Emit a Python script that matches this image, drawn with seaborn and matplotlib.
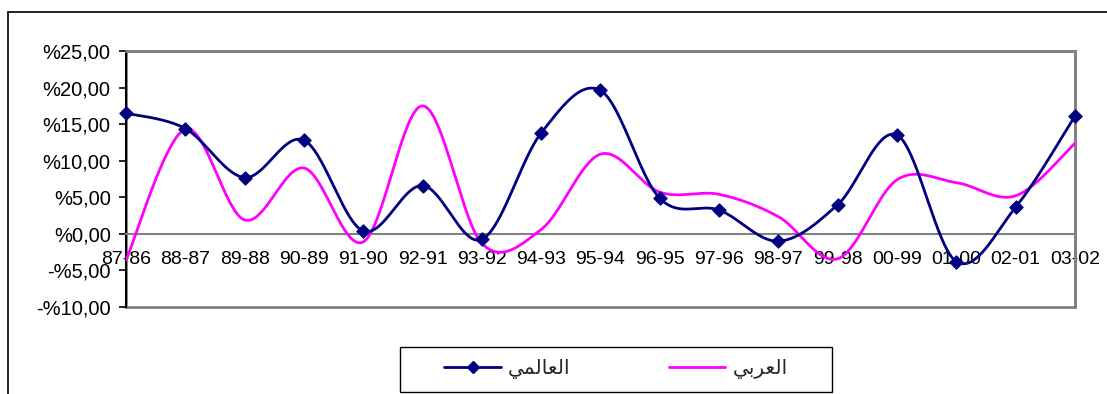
import numpy as np
import matplotlib
matplotlib.use("Agg")
import matplotlib.pyplot as plt
from matplotlib.lines import Line2D
from matplotlib.patches import Rectangle
import seaborn as sns

# Periods (years) and annual growth rates, in percent
periods = ["87-86", "88-87", "89-88", "90-89", "91-90", "92-91", "93-92", "94-93",
           "95-94", "96-95", "97-96", "98-97", "99-98", "00-99", "01-00", "02-01", "03-02"]
world = [16.5, 14.4, 7.7, 12.8, 0.4, 6.6, -0.75, 13.8, 19.6, 4.85, 3.25, -1.0,
         4.0, 13.5, -3.8, 3.65, 16.1]
arab = [-3.6, 14.3, 1.9, 9.0, -1.1, 17.5, -1.3, 0.6, 10.9, 5.7, 5.4, 2.35,
        -3.4, 7.4, 7.0, 5.2, 12.4]
y_ticks = [-10, -5, 0, 5, 10, 15, 20, 25]

# Series names, written in Arabic presentation forms (visual order)
label_world = "\uFEF2\uFEE4\uFEDF\uFE8E\uFECC\uFEDF\uFE8D"   # العالمي
label_arab = "\uFEF2\uFE91\uFEAE\uFECC\uFEDF\uFE8D"          # العربي

NAVY = "#000080"
MAGENTA = "#FF00FF"
GRAY = "#808080"


def smooth_curve(values, steps=40):
    """Catmull-Rom style Bezier smoothing through every point."""
    y = np.asarray(values, dtype=float)
    pts = np.column_stack([np.arange(len(y), dtype=float), y])
    ext = np.vstack([pts[0], pts, pts[-1]])
    t = np.linspace(0, 1, steps)[:, None]
    parts = []
    for i in range(len(y) - 1):
        p0, p3 = ext[i + 1], ext[i + 2]
        c1 = p0 + (ext[i + 2] - ext[i]) / 6.0
        c2 = p3 - (ext[i + 3] - ext[i + 1]) / 6.0
        seg = ((1 - t) ** 3) * p0 + 3 * t * (1 - t) ** 2 * c1 \
            + 3 * t ** 2 * (1 - t) * c2 + t ** 3 * p3
        parts.append(seg if i == 0 else seg[1:])
    return np.vstack(parts)


def pct_label(v):
    sign = "-" if v < 0 else ""
    return f"{sign}%{abs(v):.2f}".replace(".", ",")


sns.set_style("white")
plt.rcParams["font.family"] = ["Liberation Sans", "DejaVu Sans"]

fig = plt.figure(figsize=(11.07, 3.94), dpi=100)
ax = fig.add_axes([0.1138, 0.2208, 0.8573, 0.6498])

arab_s = smooth_curve(arab)
world_s = smooth_curve(world)

sns.lineplot(x=arab_s[:, 0], y=arab_s[:, 1], sort=False, estimator=None,
             color=MAGENTA, linewidth=2.0, ax=ax, zorder=3)
sns.lineplot(x=world_s[:, 0], y=world_s[:, 1], sort=False, estimator=None,
             color=NAVY, linewidth=2.0, ax=ax, zorder=4)
sns.scatterplot(x=np.arange(len(world)), y=world, marker="D", s=44,
                color=NAVY, edgecolor=NAVY, linewidth=1, ax=ax, zorder=5,
                clip_on=False)

ax.set_xlim(0, len(periods) - 1)
ax.set_ylim(-10, 25)
ax.set_axisbelow(True)

# Category axis crosses at zero
ax.spines["bottom"].set_position(("data", 0))
ax.spines["bottom"].set_color(GRAY)
ax.spines["bottom"].set_linewidth(1.5)
for side in ("top", "right"):
    ax.spines[side].set_color(GRAY)
    ax.spines[side].set_linewidth(2)
ax.spines["left"].set_color("black")
ax.spines["left"].set_linewidth(1.5)
ax.add_patch(Rectangle((0, 0), 1, 1, transform=ax.transAxes, fill=False,
                       edgecolor=GRAY, linewidth=2, clip_on=False, zorder=1))

ax.set_xticks(range(len(periods)), periods)
ax.set_yticks(y_ticks, [pct_label(v) for v in y_ticks])
ax.tick_params(axis="x", direction="out", length=5, width=1, color=GRAY,
               pad=7, labelsize=14, labelcolor="black")
ax.tick_params(axis="y", direction="out", length=5, width=1.2, color="black",
               pad=6, labelsize=14.5, labelcolor="black", left=True)
ax.set_xlabel("")
ax.set_ylabel("")

# Legend entries inside a separately drawn box
handles = [
    Line2D([0], [0], color=NAVY, linewidth=2, marker="D", markersize=6.5),
    Line2D([0], [0], color=MAGENTA, linewidth=2),
]
fig.legend(handles, [label_world, label_arab], loc="center",
           bbox_to_anchor=(0.5565, 0.0635), ncol=2, frameon=False,
           handlelength=2.8, handletextpad=0.35, columnspacing=4.9,
           numpoints=1, prop={"family": "DejaVu Sans", "size": 14.5})
fig.add_artist(Rectangle((400 / 1107, 2 / 394), 432 / 1107, 45 / 394,
                         transform=fig.transFigure, fill=False,
                         edgecolor="black", linewidth=1.0))

# Chart area border
y_top = 1 - 12 / 394
x_left = 8 / 1107
fig.add_artist(Line2D([x_left, 1.0], [y_top, y_top], transform=fig.transFigure,
                      color="black", linewidth=1.2))
fig.add_artist(Line2D([x_left, x_left], [0.0, y_top], transform=fig.transFigure,
                      color="black", linewidth=1.2))

fig.savefig("out.png", dpi=100)
